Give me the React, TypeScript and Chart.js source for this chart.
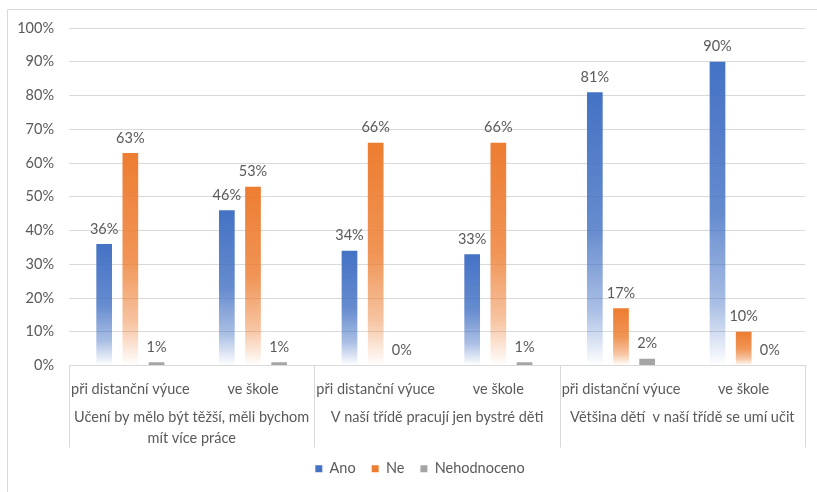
import React, { useEffect, useRef } from "react";
import { Chart, registerables } from "chart.js";

Chart.register(...registerables);

// Sub-categories (x axis ticks) and the question groups they belong to
const subLabels = [
  "při distanční výuce",
  "ve škole",
  "při distanční výuce",
  "ve škole",
  "při distanční výuce",
  "ve škole",
];
const groupLabels: string[][] = [
  ["Učení by mělo být těžší, měli bychom", "mít více práce"],
  ["V naší třídě pracují jen bystré děti"],
  ["Většina dětí  v naší třídě se umí učit"],
];
const groupSize = 2;

// Series values in percent
const ano = [36, 46, 34, 33, 81, 90];
const ne = [63, 53, 66, 66, 17, 10];
const nehodnoceno = [1, 1, 0, 1, 2, 0];

const yTicks = [0, 10, 20, 30, 40, 50, 60, 70, 80, 90, 100];

const FONT = "Lato, 'Open Sans', sans-serif";
const TEXT = "#595959";
const LINE = "#d9d9d9";
const BLUE: [number, number, number] = [68, 114, 196];
const ORANGE: [number, number, number] = [237, 125, 49];
const GRAY = "#a5a5a5";
const SIZE = 14.5;

function fade(rgb: [number, number, number]) {
  return (ctx: any) => {
    const chart = ctx.chart;
    const solid = `rgb(${rgb.join(",")})`;
    if (!chart.chartArea || ctx.type !== "data") return solid;
    const y = chart.scales.y;
    const top = y.getPixelForValue(ctx.raw);
    const base = y.getPixelForValue(0);
    if (!isFinite(top) || base - top < 1) return solid;
    const g = chart.ctx.createLinearGradient(0, top, 0, base);
    const c = (a: number) => `rgba(${rgb.join(",")},${a})`;
    g.addColorStop(0, c(1));
    g.addColorStop(0.5, c(0.82));
    g.addColorStop(0.8, c(0.45));
    g.addColorStop(1, c(0));
    return g;
  };
}

const frame = {
  id: "frame",
  beforeDraw(chart: any) {
    const c = chart.ctx;
    c.save();
    c.strokeStyle = LINE;
    c.lineWidth = 1;
    c.beginPath();
    c.moveTo(7.5, chart.height);
    c.lineTo(7.5, 9.5);
    c.lineTo(chart.width, 9.5);
    c.stroke();
    c.restore();
  },
};

// Nudge the legend row a little right of the canvas centre
const legendShift = {
  id: "legendShift",
  afterLayout(chart: any) {
    const lg = chart.legend;
    const x = chart.scales.x;
    if (!lg || !x) return;
    const dx = (x.left + x.right) / 2 - (lg.left + lg.right) / 2 - 17;
    lg.left += dx;
    lg.right += dx;
  },
};

const valueLabels = {
  id: "valueLabels",
  afterDatasetsDraw(chart: any) {
    const c = chart.ctx;
    c.save();
    c.font = `${SIZE}px ${FONT}`;
    c.fillStyle = TEXT;
    c.textAlign = "center";
    c.textBaseline = "middle";
    chart.data.datasets.forEach((ds: any, i: number) => {
      const meta = chart.getDatasetMeta(i);
      meta.data.forEach((el: any, j: number) => {
        c.fillText(`${ds.data[j]}%`, el.x, el.y - 15);
      });
    });
    c.restore();
  },
};

const groupAxis = {
  id: "groupAxis",
  afterDraw(chart: any) {
    const x = chart.scales.x;
    const c = chart.ctx;
    const top = x.top;
    const bottom = x.top + 82;
    const bounds: number[] = [x.left];
    for (let g = 1; g < groupLabels.length; g++) {
      const i = g * groupSize;
      bounds.push((x.getPixelForValue(i - 1) + x.getPixelForValue(i)) / 2);
    }
    bounds.push(x.right);
    c.save();
    c.strokeStyle = LINE;
    c.lineWidth = 1;
    bounds.forEach((b) => {
      const px = Math.round(b) + 0.5;
      c.beginPath();
      c.moveTo(px, top);
      c.lineTo(px, bottom);
      c.stroke();
    });
    c.font = `${SIZE}px ${FONT}`;
    c.fillStyle = TEXT;
    c.textAlign = "center";
    c.textBaseline = "middle";
    groupLabels.forEach((lines, g) => {
      const cx = (bounds[g] + bounds[g + 1]) / 2;
      lines.forEach((t, k) => c.fillText(t, cx, top + 52 + k * 21));
    });
    c.restore();
  },
};

export default function App() {
  const ref = useRef<HTMLCanvasElement>(null);
  useEffect(() => {
    if (!ref.current) return;
    const legendColors = [`rgb(${BLUE.join(",")})`, `rgb(${ORANGE.join(",")})`, GRAY];
    const chart = new Chart(ref.current, {
      type: "bar",
      data: {
        labels: subLabels,
        datasets: [
          { label: "Ano", data: ano, backgroundColor: fade(BLUE) as any },
          { label: "Ne", data: ne, backgroundColor: fade(ORANGE) as any },
          { label: "Nehodnoceno", data: nehodnoceno, backgroundColor: GRAY },
        ],
      },
      options: {
        animation: false,
        responsive: false,
        datasets: { bar: { categoryPercentage: 0.64, barPercentage: 0.6 } },
        layout: { padding: { top: 28, right: 12, bottom: 6, left: 0 } },
        plugins: {
          tooltip: { enabled: false },
          legend: {
            position: "bottom",
            labels: {
              font: { family: FONT, size: 14.5 },
              color: TEXT,
              boxWidth: 7,
              boxHeight: 7,
              padding: 16,
              generateLabels: (ch: any) =>
                ch.data.datasets.map((ds: any, i: number) => ({
                  text: ds.label,
                  fillStyle: legendColors[i],
                  strokeStyle: legendColors[i],
                  lineWidth: 0,
                  fontColor: TEXT,
                  hidden: false,
                  datasetIndex: i,
                })),
            },
          },
        },
        scales: {
          x: {
            grid: { display: false },
            border: { display: true, color: LINE },
            ticks: {
              font: { family: FONT, size: SIZE },
              color: TEXT,
              padding: 7,
              maxRotation: 0,
              autoSkip: false,
            },
            afterFit: (s: any) => {
              s.height = 80;
            },
          },
          y: {
            min: 0,
            max: 100,
            afterBuildTicks: (s: any) => {
              s.ticks = yTicks.map((v) => ({ value: v }));
            },
            grid: { color: LINE, drawTicks: false },
            border: { display: false },
            ticks: {
              font: { family: FONT, size: SIZE },
              color: TEXT,
              padding: 15,
              callback: (v: any) => `${v}%`,
            },
            afterFit: (s: any) => {
              s.width = 69;
            },
          },
        },
      },
      plugins: [frame, legendShift, valueLabels, groupAxis],
    });
    return () => chart.destroy();
  }, []);
  return (
    <div style={{ position: "fixed", left: 0, top: 0, width: 817, height: 492, background: "#fff" }}>
      <canvas ref={ref} width={817} height={492} />
    </div>
  );
}
